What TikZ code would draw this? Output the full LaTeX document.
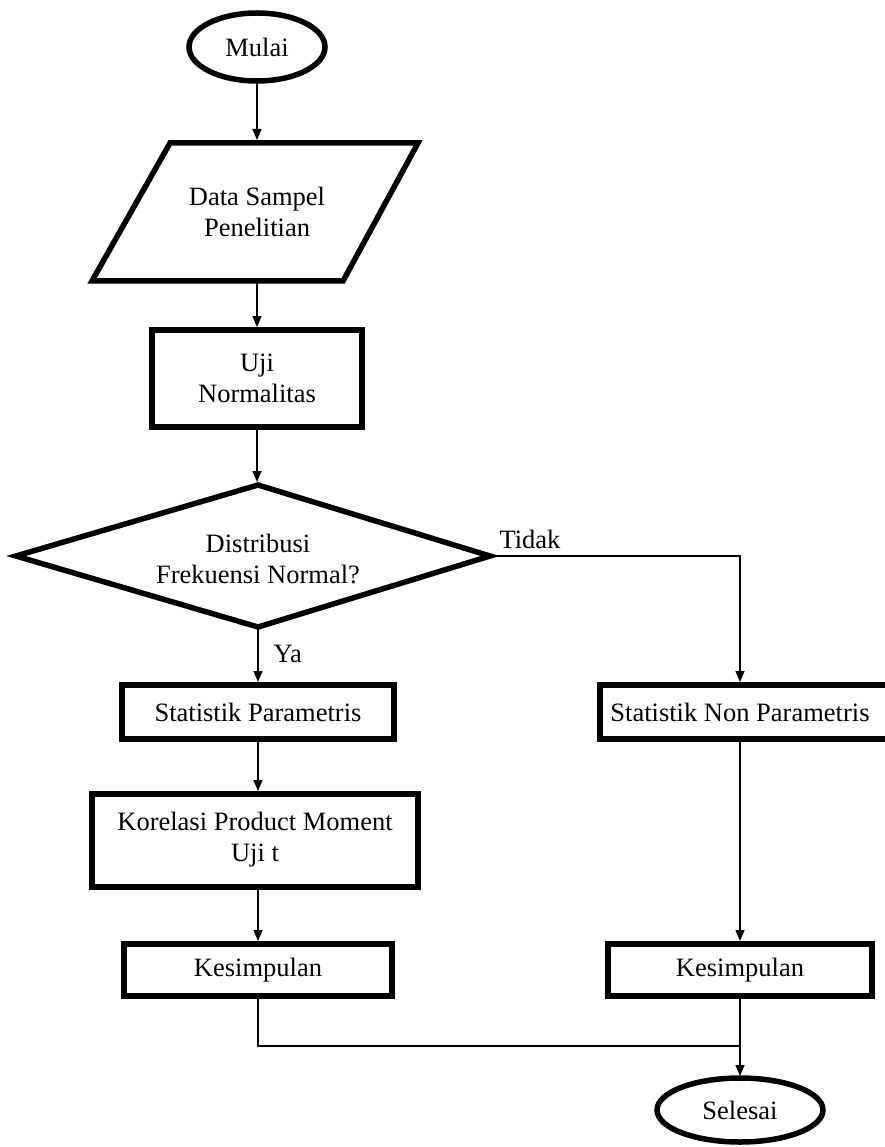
\documentclass[tikz,border=0pt]{standalone}
\usepackage{fontspec}
\setmainfont{Liberation Serif}
\usetikzlibrary{shapes.geometric,arrows.meta}
\begin{document}
\begin{tikzpicture}[x=1pt,y=-1pt,
  thickline/.style={line width=5.5pt},
  txt/.style={font=\fontsize{26.5}{31}\selectfont, align=center},
  conn/.style={line width=1.5pt},
  arr/.style={conn,-{Triangle[length=11pt,width=9pt]}}]
\useasboundingbox (0,0) rectangle (884,1147);
% shapes
\draw[thickline] (257,47) ellipse [x radius=68, y radius=34];
\node[txt] (mulai) at (257,47) {Mulai};
\draw[thickline,line join=miter] (170,143) -- (418,143) -- (343,281) -- (92,281) -- cycle;
\node[txt] (data) at (257,212) {Data Sampel\\Penelitian};
\draw[thickline] (152,330) rectangle (362,427);
\node[txt] (uji) at (257,378) {Uji\\Normalitas};
\draw[thickline,line join=miter] (258,485) -- (490,556) -- (258,627) -- (16,556) -- cycle;
\node[txt] (dist) at (258,559) {Distribusi\\Frekuensi Normal?};
\draw[thickline] (122,685) rectangle (394,739);
\node[txt] (par) at (258,712) {Statistik Parametris};
\draw[thickline] (600,685) rectangle (890,739);
\node[txt] (npar) at (740,712) {Statistik Non Parametris};
\draw[thickline] (92,794) rectangle (418,887);
\node[txt] (kor) at (255,840) {Korelasi Product Moment\\Uji t};
\draw[thickline] (124,944) rectangle (392,996);
\node[txt] (kes1) at (258,970) {Kesimpulan};
\draw[thickline] (608,944) rectangle (872,996);
\node[txt] (kes2) at (740,970) {Kesimpulan};
\draw[thickline] (740,1110) ellipse [x radius=83, y radius=32];
\node[txt] (sel) at (740,1110) {Selesai};
% coordinates
\coordinate (a1) at (257,81);
\coordinate (a2) at (257,140);
\coordinate (b1) at (257,283);
\coordinate (b2) at (257,327);
\coordinate (c1) at (257,429);
\coordinate (c2) at (257,482);
\coordinate (d1) at (258,629);
\coordinate (d2) at (258,682);
\coordinate (dr) at (492,556);
\coordinate (e1) at (740,556);
\coordinate (e2) at (740,682);
\coordinate (f1) at (258,741);
\coordinate (f2) at (258,791);
\coordinate (g1) at (258,889);
\coordinate (g2) at (258,941);
\coordinate (h1) at (740,741);
\coordinate (h2) at (740,941);
\coordinate (k1) at (258,998);
\coordinate (k2) at (258,1046);
\coordinate (k3) at (740,1046);
\coordinate (m1) at (740,998);
\coordinate (m2) at (740,1076);
% connectors
\draw[arr] (a1) -- (a2);
\draw[arr] (b1) -- (b2);
\draw[arr] (c1) -- (c2);
\draw[arr] (d1) -- (d2);
\draw[arr] (dr) -- (e1) -- (e2);
\draw[arr] (f1) -- (f2);
\draw[arr] (g1) -- (g2);
\draw[arr] (h1) -- (h2);
\draw[conn] (k1) -- (k2) -- (k3);
\draw[arr] (m1) -- (m2);
% labels
\node[txt,anchor=base west] (tidak) at (496,548) {Tidak};
\node[txt,anchor=base west] (ya) at (270,662) {Ya};
\end{tikzpicture}
\end{document}
